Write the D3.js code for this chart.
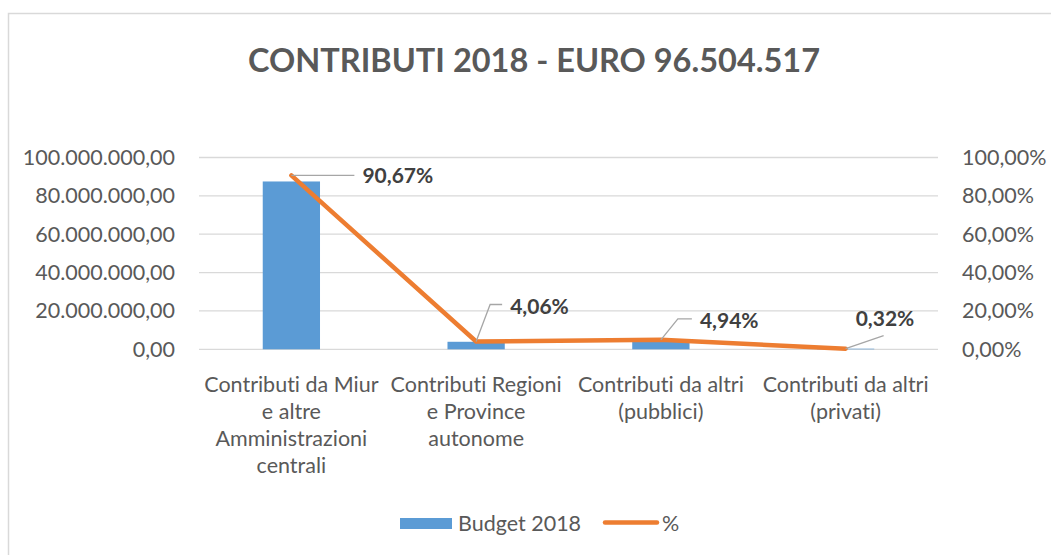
<!DOCTYPE html>
<html>
<head>
<meta charset="utf-8">
<script src="https://cdn.jsdelivr.net/npm/d3@7"></script>
<style>
  body { margin: 0; background: #fff; }
  text { font-family: Lato, "Open Sans", sans-serif; font-variant-ligatures: none; }
</style>
</head>
<body>
<main></main>
<script>
// data
const title = "CONTRIBUTI 2018 - EURO 96.504.517"
const categories = [
  ["Contributi da Miur", "e altre", "Amministrazioni", "centrali"],
  ["Contributi Regioni", "e Province", "autonome"],
  ["Contributi da altri", "(pubblici)"],
  ["Contributi da altri", "(privati)"]
]
const budget = [87500000, 3920000, 4770000, 310000] // Budget 2018
const percent = [90.67, 4.06, 4.94, 0.32]             // %
const percentLabels = ["90,67%", "4,06%", "4,94%", "0,32%"]
const leftTicks = [0, 20000000, 40000000, 60000000, 80000000, 100000000]
const rightTicks = [0, 20, 40, 60, 80, 100]
const seriesNames = ["Budget 2018", "%"]

const w = 1051
const h = 555
const plotLeft = 199, plotRight = 938, plotTop = 157.5, plotBottom = 349.3
const fontSize = 21.5

const blue = "#5b9bd5"
const orange = "#ed7d31"
const grey = "#595959"

const svg = d3.select("main").append("svg")
  .attr("width", w)
  .attr("height", h)

// chart border (only top and left visible in the picture)
svg.append("rect")
  .attr("x", 8.5).attr("y", 13.5)
  .attr("width", w + 20).attr("height", h + 20)
  .attr("fill", "none")
  .attr("stroke", "#d9d9d9")
  .attr("stroke-width", 1.5)

svg.append("text")
  .attr("x", 534).attr("y", 72)
  .attr("text-anchor", "middle")
  .attr("font-size", 32.5)
  .attr("font-weight", "bold")
  .attr("fill", grey)
  .text(title)

const x = d3.scaleBand()
  .domain(d3.range(categories.length))
  .range([plotLeft, plotRight])

const yLeft = d3.scaleLinear().domain([0, 100000000]).range([plotBottom, plotTop])
const yRight = d3.scaleLinear().domain([0, 100]).range([plotBottom, plotTop])

const fmtEuro = d3.formatLocale({ decimal: ",", thousands: ".", grouping: [3], currency: ["", "€"] }).format(",.2f")
const fmtPct = d => d3.format(".2f")(d).replace(".", ",") + "%"

// gridlines
svg.append("g")
  .selectAll("line")
  .data(leftTicks)
  .join("line")
  .attr("x1", plotLeft).attr("x2", plotRight)
  .attr("y1", d => yLeft(d)).attr("y2", d => yLeft(d))
  .attr("stroke", "#d9d9d9")
  .attr("stroke-width", 1.3)

// axes (text only, like the original)
const axisL = svg.append("g")
  .attr("transform", `translate(${plotLeft - 24}, 0)`)
  .call(d3.axisLeft(yLeft).tickValues(leftTicks).tickFormat(fmtEuro).tickSize(0))
axisL.select(".domain").remove()
axisL.selectAll("text")
  .attr("x", 0)
  .attr("font-size", fontSize).attr("fill", grey)
  .attr("font-family", "Lato, sans-serif")

const axisR = svg.append("g")
  .attr("transform", `translate(${plotRight + 24}, 0)`)
  .call(d3.axisRight(yRight).tickValues(rightTicks).tickFormat(fmtPct).tickSize(0))
axisR.select(".domain").remove()
axisR.selectAll("text")
  .attr("x", 0)
  .attr("font-size", fontSize).attr("fill", grey)
  .attr("font-family", "Lato, sans-serif")

// bars
const barW = x.bandwidth() * 0.31
svg.append("g")
  .selectAll("rect")
  .data(budget)
  .join("rect")
  .attr("x", (d, i) => x(i) + x.bandwidth() / 2 - barW / 2)
  .attr("y", d => yLeft(d))
  .attr("width", barW)
  .attr("height", d => plotBottom - yLeft(d))
  .attr("fill", blue)

// category labels
const cat = svg.append("g")
  .selectAll("text")
  .data(categories)
  .join("text")
  .attr("text-anchor", "middle")
  .attr("font-size", fontSize)
  .attr("fill", grey)
cat.selectAll("tspan")
  .data((d, i) => d.map(t => ({ t, i })))
  .join("tspan")
  .attr("x", d => x(d.i) + x.bandwidth() / 2)
  .attr("y", (d, j) => 392 + j * 27)
  .text(d => d.t)

// percent line
const line = d3.line()
  .x((d, i) => x(i) + x.bandwidth() / 2)
  .y(d => yRight(d))
svg.append("path")
  .datum(percent)
  .attr("d", line)
  .attr("fill", "none")
  .attr("stroke", orange)
  .attr("stroke-width", 4.5)
  .attr("stroke-linecap", "round")
  .attr("stroke-linejoin", "round")

// data labels with leader lines: offsets from each point
const labelLayout = [
  { leader: [[0, 0], [63, 0]], tx: 71, ty: 0 },
  { leader: [[0, 0], [14, -37], [26, -37]], tx: 34, ty: -35 },
  { leader: [[0, 0], [17, -21], [31, -21]], tx: 39, ty: -19 },
  { leader: [[0, 0], [38, -13]], tx: 10, ty: -30 }
]
const lab = svg.append("g")
  .selectAll("g")
  .data(percent)
  .join("g")
  .attr("transform", (d, i) => `translate(${x(i) + x.bandwidth() / 2}, ${yRight(d)})`)
lab.append("path")
  .attr("d", (d, i) => d3.line()(labelLayout[i].leader))
  .attr("fill", "none")
  .attr("stroke", "#a6a6a6")
  .attr("stroke-width", 1.3)
lab.append("text")
  .attr("x", (d, i) => labelLayout[i].tx)
  .attr("y", (d, i) => labelLayout[i].ty)
  .attr("dy", "0.35em")
  .attr("font-size", 21)
  .attr("font-weight", "bold")
  .attr("fill", "#404040")
  .text((d, i) => percentLabels[i])

// legend
const leg = svg.append("g")
leg.append("rect")
  .attr("x", 400).attr("y", 518)
  .attr("width", 52).attr("height", 11)
  .attr("fill", blue)
leg.append("text")
  .attr("x", 458).attr("y", 531)
  .attr("font-size", fontSize).attr("fill", grey)
  .text(seriesNames[0])
leg.append("line")
  .attr("x1", 605).attr("x2", 657)
  .attr("y1", 522.5).attr("y2", 522.5)
  .attr("stroke", orange).attr("stroke-width", 4.5)
  .attr("stroke-linecap", "round")
leg.append("text")
  .attr("x", 662).attr("y", 531)
  .attr("font-size", fontSize).attr("fill", grey)
  .text(seriesNames[1])
</script>
</body>
</html>
